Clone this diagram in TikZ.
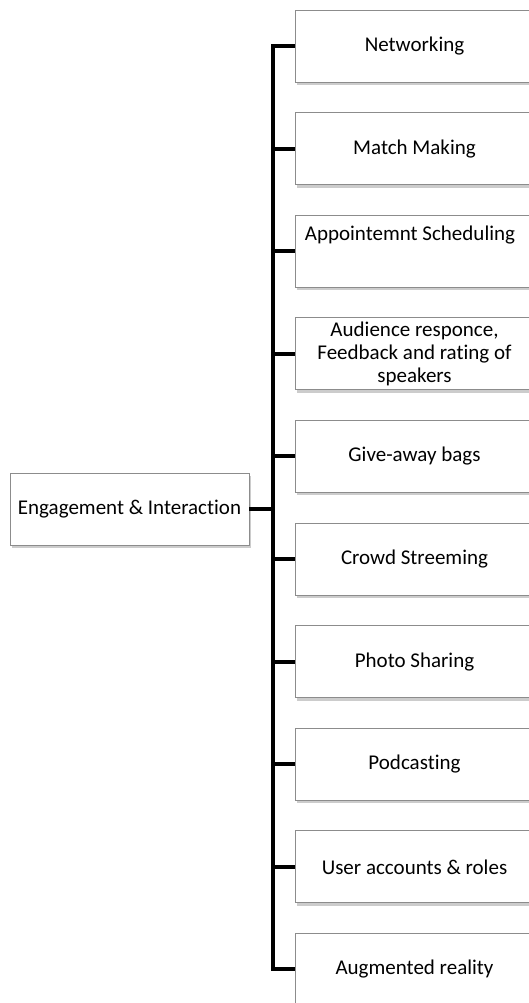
\documentclass[tikz,border=0pt]{standalone}
\usepackage{fontspec}
\setmainfont[Ligatures={NoCommon}]{Carlito}
\usetikzlibrary{shadows,calc}
\tikzset{
  box/.style={draw=black!45, line width=0.8pt, fill=white, minimum width=239pt, minimum height=72pt,
    inner sep=0pt, align=center, font=\fontsize{21}{23}\selectfont,
    drop shadow={shadow xshift=2pt, shadow yshift=-3pt, fill=black!40, opacity=0.5}},
  conn/.style={line width=4pt, black, line join=miter},
  lbl/.style={inner sep=0pt, align=center, font=\fontsize{21}{23}\selectfont}
}
\begin{document}
\begin{tikzpicture}[x=1pt,y=-1pt]
\useasboundingbox (0,0) rectangle (529,1003);
\clip (0,0) rectangle (529,1003);
\node[box] (root) at (129.5,509) {Engagement \& Interaction};
\node[box] (b1) at (414.5,46) {Networking};
\node[box] (b2) at (414.5,148.6) {Match Making};
\node[box] (b3) at (414.5,251.2) {};
\node[lbl, anchor=center] (t3) at (410,235) {Appointemnt Scheduling};
\node[box] (b4) at (414.5,353.8) {Audience responce,\\Feedback and rating of\\speakers};
\node[box] (b5) at (414.5,456.4) {Give-away bags};
\node[box] (b6) at (414.5,559) {Crowd Streeming};
\node[box] (b7) at (414.5,661.6) {Photo Sharing};
\node[box] (b8) at (414.5,764.2) {Podcasting};
\node[box] (b9) at (414.5,866.8) {User accounts \& roles};
\node[box] (b10) at (414.5,969.4) {Augmented reality};
\coordinate (ttop) at ([xshift=-22pt]b1.west);
\coordinate (tbot) at ([xshift=-22pt]b10.west);
\draw[conn] (b1.west) -- (ttop) -- (tbot) -- (b10.west);
\foreach \i in {2,...,9}{
  \draw[conn] (b\i.west) -- (b\i.west -| ttop);
}
\draw[conn] (root.east) -- (root.east -| ttop);
\end{tikzpicture}
\end{document}
